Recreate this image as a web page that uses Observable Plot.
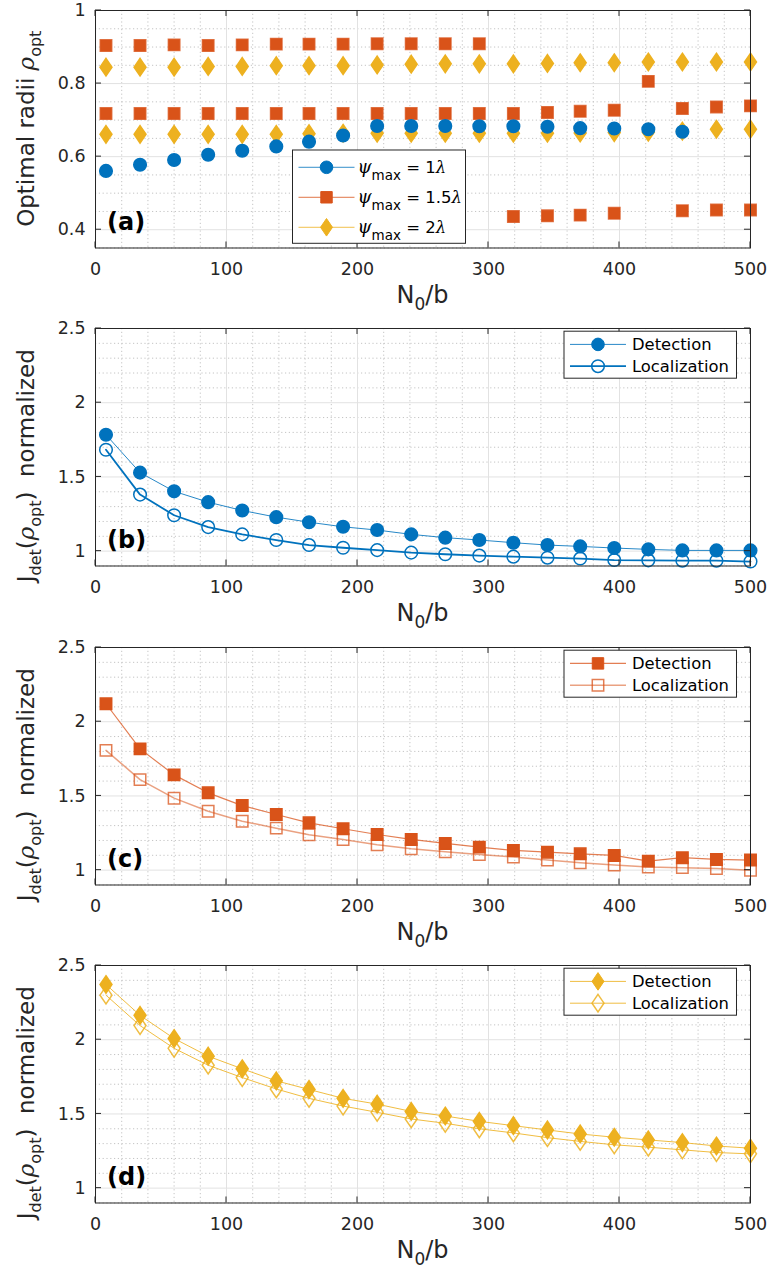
<!DOCTYPE html>
<html><head><meta charset="utf-8">
<script src="https://cdn.jsdelivr.net/npm/d3@7"></script>
<script src="https://cdn.jsdelivr.net/npm/@observablehq/plot@0.6"></script>
<style>
body{margin:0;background:#fff;font-family:"DejaVu Sans",sans-serif;}
#wrap{width:773px;}
svg{display:block;}
</style></head><body><div id="wrap"></div>
<script>
// ---- data ----
const N0b = [8, 34, 60, 86, 112, 138, 163, 189, 215, 241, 267, 293, 319, 345, 370, 396, 422, 448, 474, 500];

// panel (a): optimal radii
const rhoPsi1    = [0.561, 0.578, 0.591, 0.605, 0.616, 0.628, 0.641, 0.658, 0.684, 0.684, 0.684, 0.683, 0.683, 0.682, 0.678, 0.677, 0.675, 0.668, null, null];
const rhoPsi15a  = [0.904, 0.904, 0.906, 0.904, 0.906, 0.908, 0.908, 0.908, 0.909, 0.909, 0.909, 0.909, null, null, null, null, 0.806, null, null, null];
const rhoPsi15b  = [0.718, 0.718, 0.718, 0.718, 0.718, 0.718, 0.718, 0.718, 0.718, 0.718, 0.718, 0.718, 0.718, 0.721, 0.724, 0.727, null, 0.732, 0.736, 0.739];
const rhoPsi15c  = [null, null, null, null, null, null, null, null, null, null, null, null, 0.436, 0.438, 0.440, 0.445, null, 0.452, 0.454, 0.454];
const rhoPsi2a   = [0.845, 0.845, 0.845, 0.847, 0.847, 0.849, 0.849, 0.849, 0.851, 0.853, 0.854, 0.854, 0.854, 0.855, 0.857, 0.857, 0.859, 0.859, 0.859, 0.859];
const rhoPsi2b   = [0.661, 0.661, 0.661, 0.661, 0.661, 0.661, 0.663, 0.664, 0.664, 0.664, 0.664, 0.664, 0.664, 0.664, 0.665, 0.666, 0.667, 0.670, 0.675, 0.675];

// panel (b): psi = 1 lambda
const jDet1 = [1.784, 1.529, 1.403, 1.330, 1.274, 1.229, 1.195, 1.164, 1.142, 1.113, 1.091, 1.075, 1.057, 1.041, 1.032, 1.021, 1.012, 1.005, 1.005, 1.005];
const jLoc1 = [1.683, 1.381, 1.242, 1.162, 1.113, 1.075, 1.041, 1.023, 1.007, 0.990, 0.979, 0.970, 0.963, 0.956, 0.950, 0.940, 0.938, 0.936, 0.936, 0.930];
// panel (c): psi = 1.5 lambda
const jDet15 = [2.121, 1.817, 1.642, 1.521, 1.435, 1.375, 1.319, 1.279, 1.240, 1.207, 1.180, 1.155, 1.133, 1.121, 1.110, 1.099, 1.061, 1.084, 1.072, 1.068];
const jLoc15 = [1.807, 1.610, 1.485, 1.397, 1.330, 1.283, 1.238, 1.207, 1.171, 1.144, 1.124, 1.106, 1.088, 1.068, 1.050, 1.034, 1.021, 1.017, 1.011, 0.999];
// panel (d): psi = 2 lambda
const jDet2 = [2.372, 2.164, 2.008, 1.889, 1.804, 1.723, 1.665, 1.605, 1.566, 1.517, 1.486, 1.450, 1.421, 1.392, 1.365, 1.343, 1.325, 1.307, 1.284, 1.269];
const jLoc2 = [2.300, 2.095, 1.942, 1.828, 1.745, 1.668, 1.605, 1.553, 1.511, 1.466, 1.437, 1.400, 1.372, 1.340, 1.315, 1.292, 1.276, 1.258, 1.240, 1.231];

// ticks
const xMajor = [0, 100, 200, 300, 400, 500];
const xMinor = [20, 40, 60, 80, 120, 140, 160, 180, 220, 240, 260, 280, 320, 340, 360, 380, 420, 440, 460, 480];
const yMajorA = [0.4, 0.6, 0.8, 1];
const yMinorA = [0.35, 0.45, 0.5, 0.55, 0.65, 0.7, 0.75, 0.85, 0.9, 0.95];
const yMajorJ = [1, 1.5, 2, 2.5];
const yMinorJ = [0.9, 1.1, 1.2, 1.3, 1.4, 1.6, 1.7, 1.8, 1.9, 2.1, 2.2, 2.3, 2.4];
const legendA = ["1", "1.5", "2"];
const legendJ = ["Detection", "Localization"];
const panelLetters = ["(a)", "(b)", "(c)", "(d)"];

// ---- style ----
const BLUE = "#0072BD", RED = "#D95319", YEL = "#EDB120", INK = "#262626";
const W = 773, H = 318.4, ML = 95, MR = 23, MT = 10, MB = 70.9;
const PH = H - MT - MB;

const squareSym = {draw(ctx, size) {const r = Math.sqrt(size / Math.PI) * 0.88; ctx.moveTo(-r, -r); ctx.lineTo(r, -r); ctx.lineTo(r, r); ctx.lineTo(-r, r); ctx.closePath();}};
const diamondSym = {draw(ctx, size) {const r = Math.sqrt(size / Math.PI); ctx.moveTo(0, -r * 1.35); ctx.lineTo(r * 0.92, 0); ctx.lineTo(0, r * 1.35); ctx.lineTo(-r * 0.92, 0); ctx.closePath();}};
const circleSym = d3.symbolCircle;

const rows = (ys) => N0b.map((x, i) => ({x, y: ys[i]})).filter(d => d.y != null);

function basePlot(yDomain, yMajor, yMinor, marks) {
  return Plot.plot({
    width: W, height: H, marginLeft: ML, marginRight: MR, marginTop: MT, marginBottom: MB,
    style: {fontFamily: "DejaVu Sans, sans-serif", fontSize: "17.5px", color: INK, background: "#fff", overflow: "visible"},
    x: {domain: [0, 500]},
    y: {domain: yDomain},
    marks: [
      Plot.gridX(xMinor, {stroke: "#c4c4c4", strokeOpacity: 1, strokeDasharray: "1.2,2.6"}),
      Plot.gridY(yMinor, {stroke: "#c4c4c4", strokeOpacity: 1, strokeDasharray: "1.2,2.6"}),
      Plot.gridX(xMajor, {stroke: "#e2e2e2", strokeOpacity: 1}),
      Plot.gridY(yMajor, {stroke: "#e2e2e2", strokeOpacity: 1}),
      Plot.axisX(xMajor, {tickSize: 0, tickPadding: 14.5, label: null, fill: INK}),
      Plot.axisY(yMajor, {tickSize: 0, tickPadding: 10, label: null, tickFormat: d => String(d), fill: INK}),
      ...marks,
      Plot.frame({stroke: INK, strokeWidth: 1})
    ]
  });
}

function decorate(chart, opts) {
  const svg = d3.select(chart);
  const sx = chart.scale("x"), sy = chart.scale("y");
  const x0 = ML, x1 = W - MR, y0 = MT, y1 = MT + PH;
  const g = svg.append("g").attr("stroke", INK).attr("stroke-width", 1);
  for (const t of xMajor) {
    const px = sx.apply(t);
    g.append("line").attr("x1", px).attr("x2", px).attr("y1", y1).attr("y2", y1 - 6);
    g.append("line").attr("x1", px).attr("x2", px).attr("y1", y0).attr("y2", y0 + 6);
  }
  for (const t of opts.yMajor) {
    const py = sy.apply(t);
    g.append("line").attr("x1", x0).attr("x2", x0 + 6).attr("y1", py).attr("y2", py);
    g.append("line").attr("x1", x1).attr("x2", x1 - 6).attr("y1", py).attr("y2", py);
  }
  // x label
  const xl = svg.append("text").attr("x", (x0 + x1) / 2).attr("y", y1 + 56).attr("text-anchor", "middle")
    .attr("font-size", 24).attr("fill", INK).attr("font-family", "DejaVu Sans");
  xl.append("tspan").text("N");
  xl.append("tspan").attr("font-size", 17).attr("dy", 7).text("0");
  xl.append("tspan").attr("dy", -7).text("/b");
  // y label
  const yl = svg.append("text").attr("transform", `translate(34,${(y0 + y1) / 2 + opts.yLabelShift}) rotate(-90)`)
    .attr("text-anchor", "middle").attr("font-size", 23).attr("fill", INK).attr("font-family", "DejaVu Sans");
  opts.yLabel(yl);
  // panel letter
  svg.append("text").attr("x", 107).attr("y", y1 - 17.5).attr("text-anchor", "start").attr("font-size", 24).attr("font-weight", "bold")
    .attr("fill", "#000").attr("font-family", "DejaVu Sans").text(opts.letter);
  // legend
  const L = opts.legend;
  const lg = svg.append("g").attr("font-family", "DejaVu Sans").attr("text-anchor", "start");
  lg.append("rect").attr("x", L.x).attr("y", L.y).attr("width", L.w).attr("height", L.h)
    .attr("fill", "#fff").attr("stroke", INK).attr("stroke-width", 1);
  L.items.forEach((it, i) => {
    const cy = L.y + L.row0 + i * L.dy;
    lg.append("line").attr("x1", L.x + 6).attr("x2", L.x + 62).attr("y1", cy).attr("y2", cy)
      .attr("stroke", it.color).attr("stroke-width", it.lw).attr("stroke-opacity", it.lo ?? 1);
    lg.append("path").attr("transform", `translate(${L.x + 34},${cy})`)
      .attr("d", d3.symbol().type(it.sym).size(it.r * it.r * Math.PI)())
      .attr("fill", it.fill).attr("stroke", it.color).attr("stroke-width", it.sw ?? 1).attr("stroke-opacity", it.mo ?? 1);
    const t = lg.append("text").attr("x", L.x + L.tx).attr("y", cy).attr("dy", "0.35em")
      .attr("text-anchor", "start").attr("font-size", L.fs).attr("fill", "#000");
    it.label(t);
  });
}

function jLabel(t) {
  t.append("tspan").text("J");
  t.append("tspan").attr("font-size", 16).attr("dy", 7).text("det");
  t.append("tspan").attr("dy", -7).text("(");
  t.append("tspan").attr("font-style", "italic").attr("font-family", "DejaVu Serif").text("ρ");
  t.append("tspan").attr("font-size", 16).attr("dy", 7).text("opt");
  t.append("tspan").attr("dy", -7).text(")\u00a0 normalized");
}

const wrap = document.getElementById("wrap");

// ---- panel (a) ----
{
  const chart = basePlot([0.35, 1], yMajorA, yMinorA, [
    Plot.dot(rows(rhoPsi2a), {x: "x", y: "y", symbol: diamondSym, r: 6.5, fill: YEL, stroke: YEL}),
    Plot.dot(rows(rhoPsi2b), {x: "x", y: "y", symbol: diamondSym, r: 6.5, fill: YEL, stroke: YEL}),
    Plot.dot(rows(rhoPsi15a), {x: "x", y: "y", symbol: squareSym, r: 6.5, fill: RED, stroke: RED, strokeOpacity: 0.8}),
    Plot.dot(rows(rhoPsi15b), {x: "x", y: "y", symbol: squareSym, r: 6.5, fill: RED, stroke: RED, strokeOpacity: 0.8}),
    Plot.dot(rows(rhoPsi15c), {x: "x", y: "y", symbol: squareSym, r: 6.5, fill: RED, stroke: RED, strokeOpacity: 0.8}),
    Plot.dot(rows(rhoPsi1), {x: "x", y: "y", symbol: "circle", r: 6.3, fill: BLUE, stroke: BLUE})
  ]);
  const psiLabel = (v) => (t) => {
    t.append("tspan").attr("font-style", "italic").attr("font-family", "DejaVu Serif").attr("font-size", 18).text("ψ");
    t.append("tspan").attr("font-size", 13.5).attr("dy", 7).text("max");
    t.append("tspan").attr("dy", -7).text(" = " + v);
    t.append("tspan").attr("font-style", "italic").attr("font-family", "DejaVu Serif").text("λ");
  };
  decorate(chart, {
    yMajor: yMajorA, yLabelShift: 0, letter: panelLetters[0],
    yLabel: (t) => {
      t.append("tspan").text("Optimal radii ");
      t.append("tspan").attr("font-style", "italic").attr("font-family", "DejaVu Serif").text("ρ");
      t.append("tspan").attr("font-size", 16).attr("dy", 7).text("opt");
    },
    legend: {x: 292.5, y: 150, w: 173, h: 93.3, row0: 17.3, dy: 30, fs: 16.5, tx: 65, items: [
      {color: BLUE, lw: 1, lo: 0.8, sym: circleSym, r: 6.3, fill: BLUE, label: psiLabel(legendA[0])},
      {color: RED, lw: 1, lo: 0.8, sym: squareSym, r: 6.5, fill: RED, label: psiLabel(legendA[1])},
      {color: YEL, lw: 1, lo: 0.8, sym: diamondSym, r: 6.5, fill: YEL, label: psiLabel(legendA[2])}
    ]}
  });
  wrap.appendChild(chart);
}

// ---- panels (b)-(d) ----
const jPanels = [
  {det: jDet1, loc: jLoc1, color: BLUE, sym: circleSym, plotSym: "circle", r: 6.3, detLW: 1, locLW: 1.8, detLO: 0.85, locLO: 1, locMO: 1},
  {det: jDet15, loc: jLoc15, color: RED, sym: squareSym, plotSym: squareSym, r: 6.5, detLW: 1.2, locLW: 1.5, detLO: 0.75, locLO: 0.55, locMO: 0.75},
  {det: jDet2, loc: jLoc2, color: YEL, sym: diamondSym, plotSym: diamondSym, r: 6.5, detLW: 1, locLW: 1, detLO: 0.85, locLO: 0.85, locMO: 0.85}
];
jPanels.forEach((p, k) => {
  const chart = basePlot([0.9, 2.5], yMajorJ, yMinorJ, [
    Plot.line(rows(p.loc), {x: "x", y: "y", stroke: p.color, strokeWidth: p.locLW, strokeOpacity: p.locLO}),
    Plot.line(rows(p.det), {x: "x", y: "y", stroke: p.color, strokeWidth: p.detLW, strokeOpacity: p.detLO}),
    Plot.dot(rows(p.loc), {x: "x", y: "y", symbol: p.plotSym, r: p.r, fill: "none", stroke: p.color, strokeWidth: 1.5, strokeOpacity: p.locMO}),
    Plot.dot(rows(p.det), {x: "x", y: "y", symbol: p.plotSym, r: p.r, fill: p.color, stroke: p.color})
  ]);
  decorate(chart, {
    yMajor: yMajorJ, yLabelShift: 19, letter: panelLetters[k + 1], yLabel: jLabel,
    legend: {x: 564, y: MT + 3.2, w: 172.5, h: 47, row0: 13.2, dy: 21.8, fs: 16.4, tx: 68, items: [
      {color: p.color, lw: p.detLW, lo: p.detLO, sym: p.sym, r: p.r, fill: p.color, label: (t) => t.text(legendJ[0])},
      {color: p.color, lw: p.locLW, lo: p.locLO, sym: p.sym, r: p.r, fill: "none", sw: 1.5, mo: p.locMO, label: (t) => t.text(legendJ[1])}
    ]}
  });
  wrap.appendChild(chart);
});
</script>
</body></html>
